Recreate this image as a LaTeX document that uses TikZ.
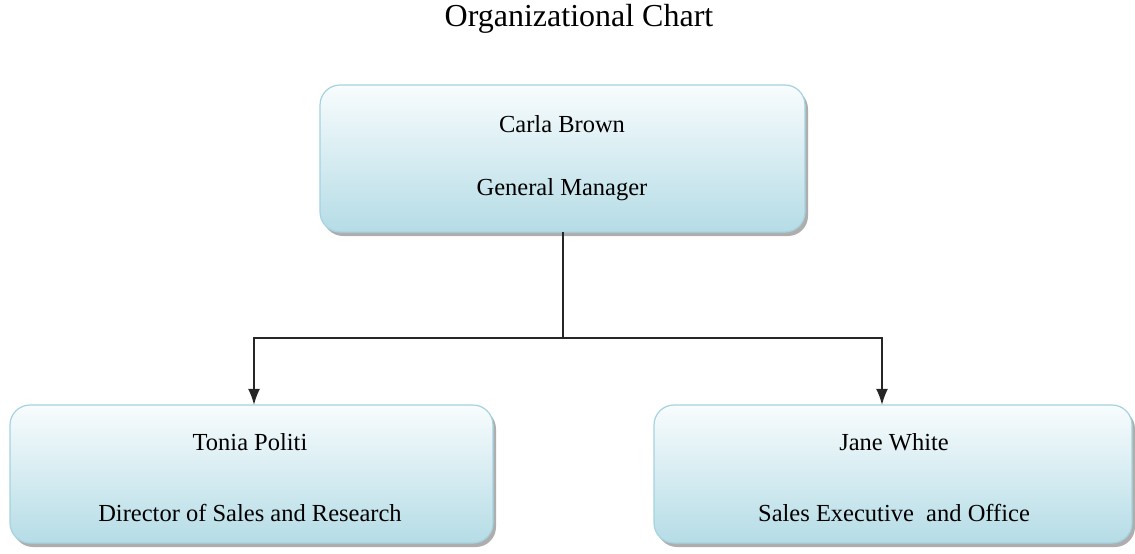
\documentclass[tikz,border=0pt]{standalone}
\usepackage{fontspec}
\setmainfont{Liberation Serif}
\usetikzlibrary{arrows.meta,shadows}
\definecolor{boxline}{HTML}{A3D3E0}
\definecolor{boxbot}{HTML}{B5DCE6}
\definecolor{boxtop}{HTML}{F8FCFD}
\tikzset{
  orgbox/.style={draw=boxline, line width=1.2pt, rounded corners=20pt,
    top color=boxtop, bottom color=boxbot,
    drop shadow={shadow xshift=3pt, shadow yshift=-4pt, opacity=0.45, fill=black!70}},
  boxtext/.style={font=\fontsize{24.5}{28}\selectfont, inner sep=0pt, anchor=base},
  titletext/.style={font=\fontsize{32}{36}\selectfont, inner sep=0pt, anchor=base},
  conn/.style={line width=1.4pt, draw=black!85},
  arr/.style={conn, -{Latex[length=16pt,width=12pt]}}
}
\begin{document}
\begin{tikzpicture}[x=1pt,y=-1pt]
\useasboundingbox (0,0) rectangle (1135,554);
\node[titletext] (title) at (579,27) {Organizational Chart};
\path[orgbox] (320,85) rectangle (805,232);
\node[minimum width=485pt, minimum height=147pt, inner sep=0pt] (top) at (562.5,158.5) {};
\path[orgbox] (10,405) rectangle (493,543);
\node[minimum width=483pt, minimum height=138pt, inner sep=0pt] (left) at (251.5,474) {};
\path[orgbox] (654,405) rectangle (1132,543);
\node[minimum width=478pt, minimum height=138pt, inner sep=0pt] (right) at (893,474) {};
\node[boxtext] (t1) at (562,132) {Carla Brown};
\node[boxtext] (t2) at (562,195) {General Manager};
\node[boxtext] (l1) at (250,450) {Tonia Politi};
\node[boxtext] (l2) at (250,521) {Director of Sales and Research};
\node[boxtext] (r1) at (894,450) {Jane White};
\node[boxtext] (r2) at (894,521) {Sales Executive\ \ and Office};
\coordinate (j) at (563,338);
\draw[conn] (top.south -| j) -- (j);
\draw[arr] (j) -| ([xshift=2.5pt]left.north);
\draw[arr] (j) -| ([xshift=-11pt]right.north);
\end{tikzpicture}
\end{document}
